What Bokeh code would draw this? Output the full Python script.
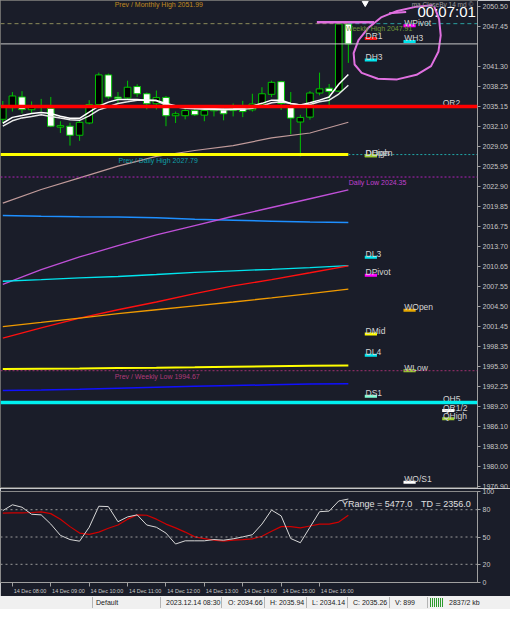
from bokeh.plotting import figure
from bokeh.models import Range1d, FixedTicker, PrintfTickFormatter, Label, Div, Span
from bokeh.layouts import column
from bokeh.embed import file_html
from bokeh.resources import INLINE
from bokeh.core.properties import value

# ---------------- data ----------------
candle_time = ["07:45", "08:00", "08:15", "08:30", "08:45", "09:00", "09:15", "09:30", "09:45",
               "10:00", "10:15", "10:30", "10:45", "11:00", "11:15", "11:30", "11:45",
               "12:00", "12:15", "12:30", "12:45", "13:00", "13:15", "13:30", "13:45",
               "14:00", "14:15", "14:30", "14:45", "15:00", "15:15", "15:30", "15:45",
               "16:00", "16:15", "16:30", "16:45"]
candle_open = [2033.20, 2034.98, 2036.62, 2034.66, 2035.26, 2034.87, 2032.00, 2032.14, 2030.75,
               2032.63, 2035.47, 2040.00, 2036.60, 2036.47, 2038.21, 2037.11, 2035.58,
               2036.55, 2033.74, 2033.74, 2034.53, 2033.83, 2034.50, 2034.64, 2034.53,
               2035.02, 2034.64, 2035.54, 2037.02, 2038.96, 2035.13, 2032.78, 2033.53,
               2037.22, 2037.96, 2037.52, 2047.81]
candle_high = [2036.00, 2037.37, 2037.50, 2035.94, 2036.32, 2036.62, 2032.90, 2032.66, 2033.04,
               2036.13, 2040.35, 2040.20, 2037.37, 2039.11, 2038.56, 2037.30, 2037.60,
               2036.77, 2034.38, 2035.13, 2034.83, 2035.13, 2035.38, 2035.38, 2035.62,
               2036.02, 2037.11, 2038.11, 2039.11, 2039.08, 2037.37, 2033.89, 2037.52,
               2040.35, 2038.61, 2048.04, 2047.96]
candle_low = [2032.60, 2034.38, 2034.10, 2034.14, 2034.38, 2032.00, 2031.10, 2029.16, 2029.90,
              2032.44, 2035.28, 2036.32, 2035.60, 2036.17, 2036.62, 2034.72, 2034.70,
              2032.14, 2032.63, 2033.19, 2033.71, 2032.90, 2033.64, 2033.04, 2033.64,
              2033.53, 2034.38, 2035.13, 2036.62, 2034.63, 2030.90, 2027.50, 2033.14,
              2036.87, 2034.87, 2037.40, 2041.84]
candle_close = [2035.10, 2036.77, 2034.68, 2035.26, 2035.05, 2032.14, 2032.22, 2030.75, 2032.73,
                2035.47, 2040.00, 2036.62, 2036.40, 2038.11, 2037.11, 2035.58, 2036.52,
                2033.74, 2034.04, 2034.53, 2033.89, 2034.53, 2034.70, 2034.04, 2034.87,
                2034.38, 2035.54, 2037.11, 2038.86, 2035.62, 2033.38, 2033.48, 2037.22,
                2037.86, 2037.47, 2047.81, 2044.75]

ma_fast = [2032.59, 2033.49, 2033.78, 2034.08, 2034.25, 2034.08, 2033.66, 2033.34, 2033.34,
           2034.31, 2035.20, 2035.83, 2036.22, 2036.22, 2036.22, 2036.13, 2036.10,
           2035.61, 2035.28, 2035.02, 2034.95, 2034.87, 2034.83, 2034.78, 2034.83,
           2034.89, 2035.23, 2035.64, 2036.13, 2036.13, 2035.62, 2035.38, 2035.72,
           2036.13, 2036.62, 2038.56, 2040.05]
ma_slow = [2032.14, 2032.96, 2033.41, 2033.64, 2033.89, 2033.64, 2033.38, 2033.14, 2033.04,
           2033.71, 2034.64, 2035.13, 2035.62, 2035.87, 2036.13, 2036.13, 2036.02,
           2035.38, 2035.13, 2034.87, 2034.80, 2034.72, 2034.68, 2034.64, 2034.68,
           2034.72, 2034.87, 2035.23, 2035.72, 2035.87, 2035.62, 2035.38, 2035.47,
           2035.87, 2036.13, 2037.07, 2038.41]

sample_time = ["07:45", "08:45", "09:45", "10:45", "11:45", "12:45", "13:45", "14:45", "15:45", "16:45"]
ma_rosy = [2020.35, 2022.44, 2024.23, 2026.02, 2027.51, 2028.41, 2029.16, 2030.35, 2031.10, 2032.74]
ma_blue = [2018.46, 2018.34, 2018.26, 2018.22, 2018.11, 2017.89, 2017.74, 2017.59, 2017.44, 2017.37]
ma_violet = [2007.89, 2010.16, 2012.10, 2013.83, 2015.47, 2016.92, 2018.34, 2019.68, 2021.02, 2022.37]
ma_cyan = [2008.38, 2008.62, 2008.89, 2009.11, 2009.41, 2009.75, 2009.98, 2010.20, 2010.46, 2010.76]
ma_red = [1999.68, 2001.25, 2002.74, 2004.01, 2005.20, 2006.47, 2007.66, 2008.63, 2009.68, 2010.75]
ma_orange = [2001.44, 2002.07, 2002.74, 2003.41, 2004.01, 2004.60, 2005.20, 2005.83, 2006.47, 2007.17]
ma_yellow = [1994.93, 1994.98, 1995.01, 1995.08, 1995.13, 1995.20, 1995.28, 1995.35, 1995.43, 1995.47]
ma_navy = [1991.62, 1991.72, 1991.84, 1991.99, 1992.14, 1992.29, 1992.40, 1992.51, 1992.62, 1992.69]

stoch_main = [79.0, 85.4, 82.7, 75.0, 74.3, 64.2, 51.8, 47.2, 45.4, 60.7, 83.8, 83.4, 66.8,
              72.1, 74.3, 63.2, 60.7, 54.3, 42.3, 45.8, 45.8, 45.8, 47.2, 46.5, 48.0, 50.1,
              52.5, 64.2, 79.6, 73.2, 48.3, 43.7, 60.7, 77.8, 78.5, 89.6, 91.7]
stoch_signal = [76.2, 76.5, 76.5, 76.9, 77.6, 75.7, 69.6, 61.4, 54.3, 52.9, 55.4, 59.6, 63.2,
                69.6, 74.3, 73.9, 69.6, 64.2, 60.0, 55.4, 50.1, 48.3, 46.5, 45.4, 46.5, 47.2,
                48.0, 50.8, 56.4, 61.4, 61.4, 60.0, 62.1, 64.2, 64.2, 66.4, 73.9]
stoch_levels = [20, 50, 80]

price_ticks = [2050.50, 2047.45, 2041.30, 2038.25, 2035.15, 2032.10, 2029.05, 2025.95,
               2022.90, 2019.85, 2016.75, 2013.70, 2010.65, 2007.55, 2004.50, 2001.45,
               1998.35, 1995.30, 1992.25, 1989.20, 1986.10, 1983.05, 1980.00, 1976.90]
stoch_ticks = [0, 20, 50, 80, 100]
hour_time = ["08:00", "09:00", "10:00", "11:00", "12:00", "13:00", "14:00", "15:00", "16:00"]
hour_labels = ["14 Dec " + h for h in hour_time]

bid_price = 2044.75
qr2_level = 2035.15
qh5_level = 1989.80
prev_daily_high = 2027.79
daily_low = 2024.35
prev_weekly_low = 1994.67
weekly_high = 2047.85
prev_monthly_high = 2051.99

lvl_name = ["DR1", "WPivot", "WH3", "DH3", "DHigh", "DOpen", "DL3", "DPivot", "WOpen", "DMid",
            "DL4", "WLow", "DS1", "QH5", "QR1/2", "QHigh", "WO/S1"]
lvl_price = [2045.57, 2047.52, 2045.13, 2042.29, 2027.60, 2027.60, 2012.04, 2009.31, 2003.93,
             2000.31, 1997.02, 1994.67, 1990.76, 1989.80, 1988.56, 1987.32, 1977.56]
lvl_slot = [0, 1, 1, 0, 0, 0, 0, 0, 1, 0, 0, 1, 0, 2, 2, 2, 1]
lvl_color = ["#ff1010", "#ff00ff", "#00e5ee", "#00e5ee", "#9acd32", "#9acd32", "#00e5ee",
             "#ff00ff", "#e6a800", "#ffff00", "#00e5ee", "#9acd32", "#7fffd4", "#00e5ee",
             "#ffffff", "#9acd32", "#ffffff"]
slot_start = [17.178, 18.186, 19.194]
slot_width = 0.318

# hand-drawn ellipse (time in hours, price)
loop_t = [18.989, 19.114, 19.156, 19.098, 18.904, 18.526, 18.022, 17.518, 17.097, 16.913,
          16.888, 17.014, 17.266, 17.601, 18.022, 18.526, 18.947]
loop_p = [2050.46, 2048.56, 2046.07, 2043.59, 2041.35, 2040.01, 2039.31, 2039.41, 2040.31,
          2041.59, 2043.34, 2045.32, 2047.17, 2048.81, 2049.80, 2050.46, 2050.69]
stroke_t = [17.813, 18.256]
stroke_p = [2049.46, 2049.65]
pink_t = [15.93, 17.42]
pink_p = [2048.07, 2048.07]
shift_t = [17.19]

status_fields = ["Default", "2023.12.14 08:30", "O: 2034.66", "H: 2035.94", "L: 2034.14",
                 "C: 2035.26", "V: 899", "2837/2 kb"]

# ---------------- helpers ----------------
def hrs(s):
    h, m = s.split(":")
    return int(h) + int(m) / 60.0

BG = "#1a1d29"
GREEN = "#00c400"
FONT = value("Liberation Sans")
t_c = [hrs(s) for s in candle_time]
t_s = [hrs(s) for s in sample_time]
x_rng = Range1d(7.69, 20.114)

# ---------------- main price figure ----------------
p = figure(width=510, height=488, x_range=x_rng, y_range=Range1d(1976.62, 2051.40),
           output_backend="svg", toolbar_location=None, background_fill_color=BG,
           border_fill_color=BG, min_border_left=0, min_border_right=33, min_border_top=0,
           min_border_bottom=0, x_axis_location=None, y_axis_location="right")
p.grid.visible = False
p.outline_line_color = "#6a6a6a"
ya = p.yaxis[0]
ya.ticker = FixedTicker(ticks=price_ticks)
ya.formatter = PrintfTickFormatter(format="%.2f")
ya.axis_line_color = "#a0a0a0"
ya.major_tick_line_color = "#a0a0a0"
ya.major_tick_out = 3
ya.major_tick_in = 0
ya.minor_tick_line_color = None
ya.major_label_text_font = "Liberation Sans"
ya.major_label_text_font_size = "7px"
ya.major_label_text_color = "#c8c8c8"
ya.major_label_standoff = 2

# candles
p.segment(x0=t_c, y0=candle_high, x1=t_c, y1=candle_low, line_color=GREEN, line_width=1)
body_top = [max(o, c) for o, c in zip(candle_open, candle_close)]
body_bot = [min(o, c) for o, c in zip(candle_open, candle_close)]
body_fill = ["#ffffff" if c < o else "#000000" for o, c in zip(candle_open, candle_close)]
p.vbar(x=t_c, width=0.172, top=body_top, bottom=body_bot, fill_color=body_fill,
       line_color=GREEN, line_width=1)

# moving averages / pivot trend lines
p.line(t_s, ma_rosy, line_color="#c09a9a", line_width=1.2)
p.line(t_s, ma_blue, line_color="#1e8fff", line_width=1.5)
p.line(t_s, ma_violet, line_color="#c050d8", line_width=1.3)
p.line(t_s, ma_cyan, line_color="#00e5ee", line_width=1.3)
p.line(t_s, ma_red, line_color="#ff1010", line_width=1.3)
p.line(t_s, ma_orange, line_color="#f09a00", line_width=1.3)
p.line(t_s, ma_yellow, line_color="#ffff00", line_width=2)
p.line(t_s, ma_navy, line_color="#1010ff", line_width=1.5)
p.line(t_c, ma_slow, line_color="#e8e8e8", line_width=1.5)
p.line(t_c, ma_fast, line_color="#ffffff", line_width=1.5)

# horizontal levels
for lvl, col, w, dash in [(bid_price, "#c8c8c8", 1, "solid"),
                          (qr2_level, "#ff0000", 3.5, "solid"),
                          (qh5_level, "#00f0f0", 3.5, "solid"),
                          (daily_low, "#b020b8", 1, "2 2"),
                          (prev_weekly_low, "#a03070", 1, "2 2")]:
    p.add_layout(Span(location=lvl, dimension="width", line_color=col, line_width=w,
                      line_dash=dash))
t_last = t_c[-1]
p.segment(x0=[x_rng.start], x1=[t_last], y0=[prev_daily_high], y1=[prev_daily_high],
          line_color="#ffff00", line_width=3)
p.segment(x0=[t_last], x1=[x_rng.end], y0=[prev_daily_high], y1=[prev_daily_high],
          line_color="#20a8a8", line_width=1, line_dash="2 2")
p.segment(x0=[x_rng.start], x1=[t_last], y0=[weekly_high], y1=[weekly_high],
          line_color="#8a8a5a", line_width=1, line_dash="4 3")
p.segment(x0=[t_last], x1=[x_rng.end], y0=[weekly_high], y1=[weekly_high],
          line_color="#2aa0a0", line_width=1, line_dash="4 3")

# hand-drawn marks
p.line(pink_t, pink_p, line_color="#e070e0", line_width=2.5)
p.line(loop_t, loop_p, line_color="#e070e0", line_width=2)
p.line(stroke_t, stroke_p, line_color="#e070e0", line_width=2)
p.scatter(x=shift_t, y=[2051.0], marker="inverted_triangle", size=6, color="#ffffff")

# level markers + labels
bx0 = [slot_start[s] for s in lvl_slot]
bx1 = [slot_start[s] + slot_width for s in lvl_slot]
p.segment(x0=bx0, x1=bx1, y0=lvl_price, y1=lvl_price, line_color=lvl_color, line_width=3)
p.text(x=[b + 0.02 for b in bx0], y=lvl_price, text=lvl_name, text_font=FONT,
       text_font_size="8.5px", text_color="#d4d4d4", text_baseline="alphabetic", y_offset=-3)
p.text(x=[19.206], y=[qr2_level], text=["QR2"], text_font=FONT, text_font_size="8.5px",
       text_color="#d4d4d4", text_baseline="alphabetic", y_offset=-4)

# level captions
p.text(x=[10.663], y=[2051.38], text=["Prev / Monthly High %.2f" % prev_monthly_high],
       text_font=FONT, text_font_size="7px", text_color="#c08a20", text_baseline="top")
p.text(x=[10.764], y=[prev_daily_high], text=["Prev / Daily High %.2f" % prev_daily_high],
       text_font=FONT, text_font_size="7px", text_color="#10a0a8", text_baseline="top",
       y_offset=2)
p.text(x=[16.762], y=[daily_low], text=["Daily Low %.2f" % daily_low], text_font=FONT,
       text_font_size="7px", text_color="#c040d0", text_baseline="top", y_offset=2)
p.text(x=[10.663], y=[prev_weekly_low], text=["Prev / Weekly Low %.2f" % prev_weekly_low],
       text_font=FONT, text_font_size="7px", text_color="#b03a78", text_baseline="top",
       y_offset=2)
p.text(x=[16.687], y=[weekly_high], text=["Weekly High 2047.91"], text_font=FONT,
       text_font_size="7px", text_color="#6f9a3a", text_baseline="top", y_offset=1)

# countdown
p.text(x=[18.551], y=[2049.75], text=["00:07:01"], text_font=FONT, text_font_size="15px",
       text_color="#ffffff", text_baseline="middle")
p.text(x=[18.40], y=[2050.75], text=["ma CloseBy 14 md ©"], text_font=FONT,
       text_font_size="6.5px", text_color="#9a9a9a", text_baseline="middle")

# current price box on the axis
p.add_layout(Label(x=x_rng.end, y=bid_price, x_offset=1, text="%.2f" % bid_price,
                   text_font="Liberation Sans", text_font_size="7px", text_color="#000000",
                   text_baseline="middle", text_align="left", background_fill_color="#ffffff",
                   border_line_color="#808080"))

# ---------------- oscillator figure ----------------
q = figure(width=510, height=108, x_range=x_rng, y_range=Range1d(0, 100),
           output_backend="svg", toolbar_location=None, background_fill_color=BG,
           border_fill_color=BG, min_border_left=0, min_border_right=33, min_border_top=3,
           min_border_bottom=0, y_axis_location="right")
q.grid.visible = False
q.outline_line_color = "#8a8a8a"
for lv in stoch_levels:
    q.add_layout(Span(location=lv, dimension="width", line_color="#9a9a9a", line_width=1,
                      line_dash="2 3"))
q.line(t_c, stoch_signal, line_color="#d00000", line_width=1.2)
q.line(t_c, stoch_main, line_color="#d8d8d8", line_width=1)
q.text(x=[16.585], y=[86.8], text=["YRange = 5477.0"], text_font=FONT,
       text_font_size="9px", text_color="#e0e0e0", text_baseline="middle")
q.text(x=[18.64], y=[86.8], text=["TD = 2356.0"], text_font=FONT,
       text_font_size="9px", text_color="#e0e0e0", text_baseline="middle")

qa = q.yaxis[0]
qa.ticker = FixedTicker(ticks=stoch_ticks)
qa.axis_line_color = "#a0a0a0"
qa.major_tick_line_color = "#a0a0a0"
qa.major_tick_out = 3
qa.major_tick_in = 0
qa.minor_tick_line_color = None
qa.major_label_text_font = "Liberation Sans"
qa.major_label_text_font_size = "7px"
qa.major_label_text_color = "#c8c8c8"
qa.major_label_standoff = 2

shift = 0.46
h_ticks = [hrs(h) for h in hour_time]
xa = q.xaxis[0]
xa.ticker = FixedTicker(ticks=[h + shift for h in h_ticks], minor_ticks=h_ticks)
xa.major_label_overrides = {h + shift: lab for h, lab in zip(h_ticks, hour_labels)}
xa.axis_line_color = "#a0a0a0"
xa.major_tick_line_color = None
xa.major_tick_out = 0
xa.major_tick_in = 0
xa.minor_tick_line_color = "#a0a0a0"
xa.minor_tick_out = 4
xa.minor_tick_in = 0
xa.major_label_text_font = "Liberation Sans"
xa.major_label_text_font_size = "5.5px"
xa.major_label_text_color = "#c8c8c8"
xa.major_label_standoff = 1

# ---------------- status bar ----------------
status_x = [97, 169, 233, 276, 320, 362, 405, 461]
status_sep = [95, 165, 228, 272, 316, 358, 401, 440]
sc = 510 / 526
spans = ""
for xs in status_sep:
    spans += ('<span style="position:absolute;left:%dpx;top:1px;width:0;height:11px;'
              'border-left:1px solid #b4b4b4;"></span>' % round(xs * sc))
for txt, xs in zip(status_fields, status_x):
    spans += ('<span style="position:absolute;left:%dpx;top:1px;white-space:nowrap;">%s</span>'
              % (round(xs * sc) + 2, txt))
spans += ('<span style="position:absolute;left:%dpx;top:2px;width:14px;height:9px;'
          'background:repeating-linear-gradient(90deg,#2e9a2e 0 1px,#f0f0f0 1px 2px);"></span>'
          % round(443 * sc))
html = ('<div style="position:relative;width:510px;height:13px;background:#f0f0f0;'
        'font-family:\'Liberation Sans\',Arial,sans-serif;font-size:7px;color:#202020;'
        'line-height:11px;overflow:hidden;">' + spans + '</div>')
status = Div(text=html, width=510, height=13, margin=0)

layout = column(p, q, status, spacing=0)
open("out.html", "w").write(file_html(layout, INLINE))
